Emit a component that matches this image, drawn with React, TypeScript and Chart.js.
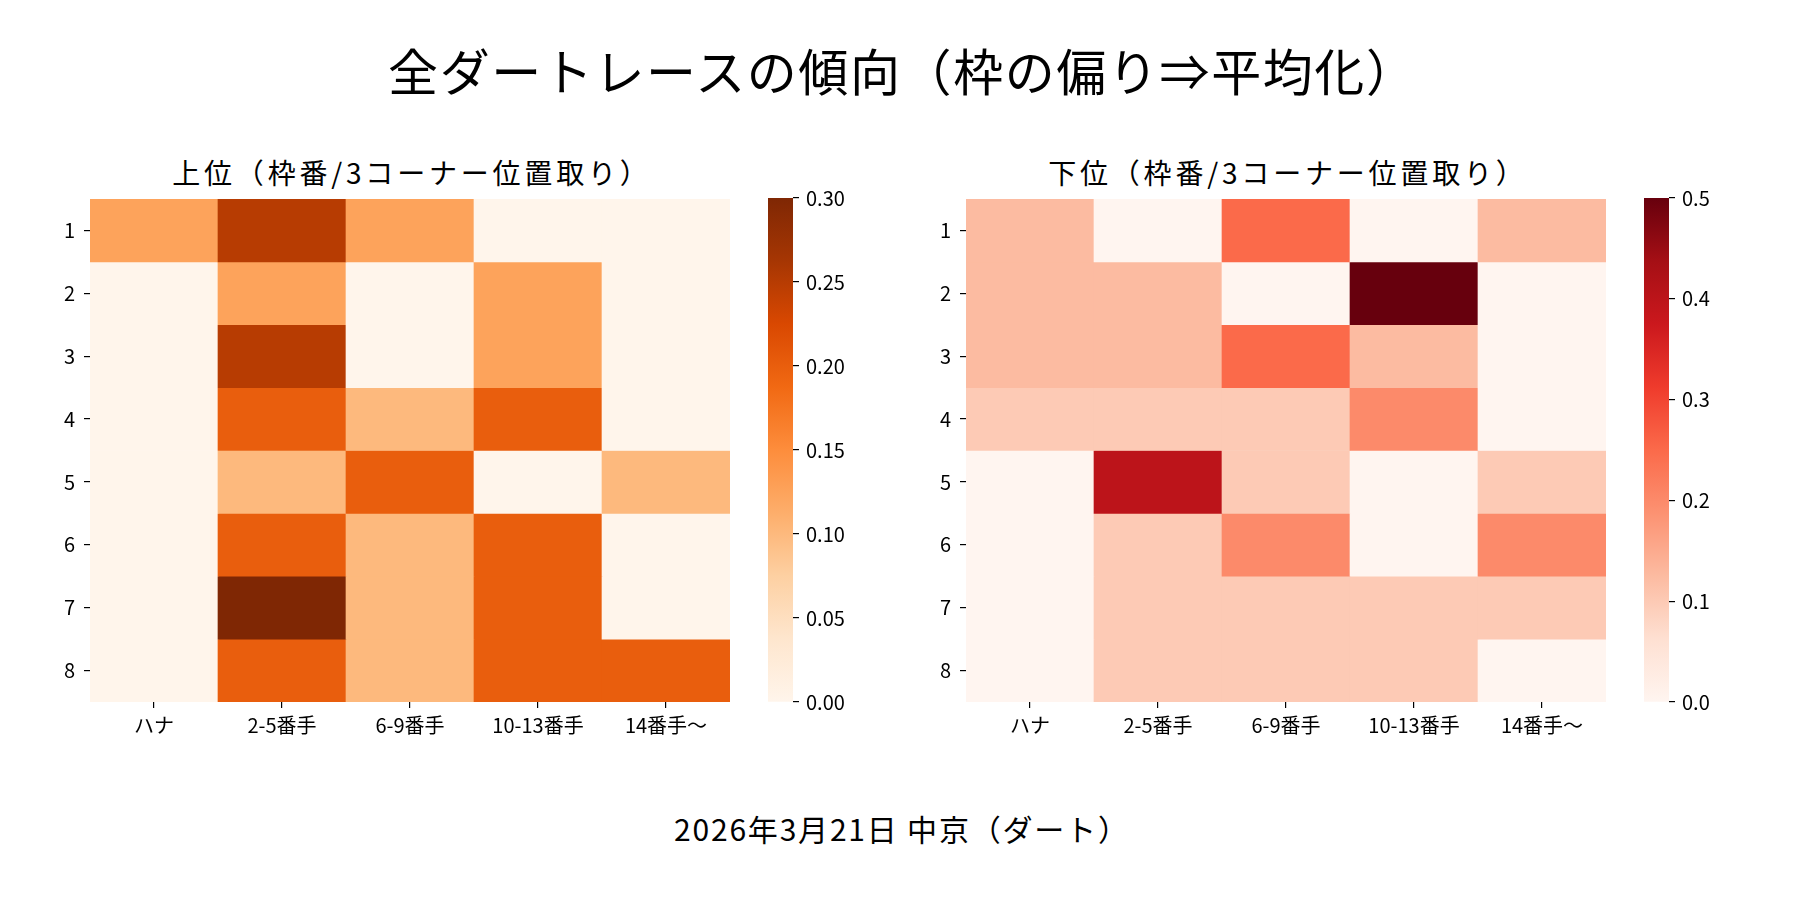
import { useEffect, useRef } from 'react';
import Chart from 'chart.js/auto';

const FONT = '"Noto Sans CJK JP", "Noto Sans", sans-serif';

const mainTitle = '全ダートレースの傾向（枠の偏り⇒平均化）';
const upperTitle = '上位（枠番/3コーナー位置取り）';
const lowerTitle = '下位（枠番/3コーナー位置取り）';
const footerText = '2026年3月21日 中京（ダート）';

const columnLabels = ['ハナ', '2-5番手', '6-9番手', '10-13番手', '14番手～'];
const rowLabels = ['1', '2', '3', '4', '5', '6', '7', '8'];

// 上位 share per 枠番 (rows) x 3コーナー position (columns)
const upperValues = [
  [0.125, 0.25, 0.125, 0, 0],
  [0, 0.125, 0, 0.125, 0],
  [0, 0.25, 0, 0.125, 0],
  [0, 0.2, 0.1, 0.2, 0],
  [0, 0.1, 0.2, 0, 0.1],
  [0, 0.2, 0.1, 0.2, 0],
  [0, 0.3, 0.1, 0.2, 0],
  [0, 0.2, 0.1, 0.2, 0.2],
];

// 下位 share
const lowerValues = [
  [0.125, 0, 0.25, 0, 0.125],
  [0.125, 0.125, 0, 0.5, 0],
  [0.125, 0.125, 0.25, 0.125, 0],
  [0.1, 0.1, 0.1, 0.2, 0],
  [0, 0.4, 0.1, 0, 0.1],
  [0, 0.1, 0.2, 0, 0.2],
  [0, 0.1, 0.1, 0.1, 0.1],
  [0, 0.1, 0.1, 0.1, 0],
];

const upperMax = 0.3;
const upperTicks = 0.05;
const lowerMax = 0.5;
const lowerTicks = 0.1;

// matplotlib Oranges / Reds
const ORANGES = ['#fff5eb', '#fee6ce', '#fdd0a2', '#fdae6b', '#fd8d3c', '#f16913', '#d94801', '#a63603', '#7f2704'];
const REDS = ['#fff5f0', '#fee0d2', '#fcbba1', '#fc9272', '#fb6a4a', '#ef3b2c', '#cb181d', '#a50f15', '#67000d'];

function hexToRgb(h: string) {
  return [parseInt(h.slice(1, 3), 16), parseInt(h.slice(3, 5), 16), parseInt(h.slice(5, 7), 16)];
}

function colorAt(stops: string[], t: number) {
  const tt = Math.max(0, Math.min(1, t)) * (stops.length - 1);
  const i = Math.min(Math.floor(tt), stops.length - 2);
  const f = tt - i;
  const a = hexToRgb(stops[i]);
  const b = hexToRgb(stops[i + 1]);
  const c = a.map((v, k) => Math.round(v + (b[k] - v) * f));
  return `rgb(${c[0]}, ${c[1]}, ${c[2]})`;
}

const tickFont = { family: FONT, size: 20 };

function Heatmap({ values, vmax, stops, left }: { values: number[][]; vmax: number; stops: string[]; left: number }) {
  const ref = useRef<HTMLCanvasElement>(null);
  const chartRef = useRef<Chart | null>(null);

  useEffect(() => {
    if (!ref.current) return;
    if (chartRef.current) chartRef.current.destroy();

    chartRef.current = new Chart(ref.current, {
      type: 'bar',
      data: {
        labels: columnLabels,
        datasets: values.map((row, r) => ({
          label: rowLabels[r],
          data: row.map(() => [r, r + 1]),
          backgroundColor: row.map(v => colorAt(stops, v / vmax)),
          borderWidth: 0,
          barPercentage: 1,
          categoryPercentage: 1,
          grouped: false,
        })),
      },
      options: {
        responsive: false,
        animation: false,
        devicePixelRatio: 1,
        layout: { padding: { top: 20, right: 10, bottom: 0, left: 0 } },
        plugins: { legend: { display: false }, tooltip: { enabled: false } },
        scales: {
          x: {
            type: 'category',
            afterFit: (s: any) => { s.height = 60; },
            grid: { display: true, drawOnChartArea: false, drawTicks: true, tickLength: 6, offset: false, color: '#000', lineWidth: 1.2 },
            border: { display: false },
            ticks: { font: tickFont, color: '#000', padding: 5, autoSkip: false, maxRotation: 0 },
          },
          y: {
            type: 'linear',
            min: 0,
            max: rowLabels.length,
            reverse: true,
            afterFit: (s: any) => { s.width = 60; },
            afterBuildTicks: (s: any) => { s.ticks = rowLabels.map((_, i) => ({ value: i + 0.5 })); },
            grid: { display: true, drawOnChartArea: false, drawTicks: true, tickLength: 6, color: '#000', lineWidth: 1.2 },
            border: { display: false },
            ticks: { font: tickFont, color: '#000', padding: 9, autoSkip: false, callback: (_v: any, i: number) => rowLabels[i] },
          },
        },
      },
    });

    return () => {
      if (chartRef.current) {
        chartRef.current.destroy();
        chartRef.current = null;
      }
    };
  }, [values, vmax, stops]);

  return (
    <canvas ref={ref} width={710} height={584} style={{ position: 'absolute', left, top: 178 }} />
  );
}

function ColorBar({ vmax, step, digits, stops, left }: { vmax: number; step: number; digits: number; stops: string[]; left: number }) {
  const ref = useRef<HTMLCanvasElement>(null);
  const chartRef = useRef<Chart | null>(null);

  useEffect(() => {
    if (!ref.current) return;
    if (chartRef.current) chartRef.current.destroy();

    chartRef.current = new Chart(ref.current, {
      type: 'bar',
      data: {
        labels: [''],
        datasets: [
          {
            data: [[0, vmax]],
            backgroundColor: (ctx: any) => {
              const area = ctx.chart.chartArea;
              if (!area) return stops[0];
              const g = ctx.chart.ctx.createLinearGradient(0, area.bottom, 0, area.top);
              stops.forEach((c, i) => g.addColorStop(i / (stops.length - 1), c));
              return g;
            },
            borderWidth: 0,
            barPercentage: 1,
            categoryPercentage: 1,
          },
        ],
      },
      options: {
        responsive: false,
        animation: false,
        devicePixelRatio: 1,
        layout: { padding: { top: 20, right: 10, bottom: 20, left: 0 } },
        plugins: { legend: { display: false }, tooltip: { enabled: false } },
        scales: {
          x: { display: false },
          y: {
            position: 'right',
            min: 0,
            max: vmax,
            afterFit: (s: any) => { s.width = 70; },
            grid: { display: true, drawOnChartArea: false, drawTicks: true, tickLength: 6, color: '#000', lineWidth: 1.2 },
            border: { display: false },
            ticks: { stepSize: step, font: tickFont, color: '#000', padding: 7, callback: (v: any) => Number(v).toFixed(digits) },
          },
        },
      },
    });

    return () => {
      if (chartRef.current) {
        chartRef.current.destroy();
        chartRef.current = null;
      }
    };
  }, [vmax, step, digits, stops]);

  return (
    <canvas ref={ref} width={105} height={544} style={{ position: 'absolute', left, top: 178 }} />
  );
}

function Text({ text, cx, cy, size, spacing = 0 }: { text: string; cx: number; cy: number; size: number; spacing?: number }) {
  return (
    <div
      style={{
        position: 'absolute',
        left: cx - 600 + spacing / 2,
        width: 1200,
        top: cy - size / 2 - size * 0.06,
        height: size,
        lineHeight: `${size}px`,
        fontSize: size,
        fontFamily: FONT,
        letterSpacing: spacing,
        color: '#000',
        textAlign: 'center',
        whiteSpace: 'nowrap',
      }}
    >
      {text}
    </div>
  );
}

export default function App() {
  return (
    <div style={{ position: 'fixed', left: 0, top: 0, width: 1800, height: 900, background: '#fff', overflow: 'hidden' }}>
      <Text text={mainTitle} cx={902} cy={72} size={50} spacing={1.6} />
      <Text text={upperTitle} cx={410} cy={174} size={28} spacing={3.8} />
      <Text text={lowerTitle} cx={1286} cy={174} size={28} spacing={3.8} />
      <Heatmap values={upperValues} vmax={upperMax} stops={ORANGES} left={30} />
      <ColorBar vmax={upperMax} step={upperTicks} digits={2} stops={ORANGES} left={768} />
      <Heatmap values={lowerValues} vmax={lowerMax} stops={REDS} left={906} />
      <ColorBar vmax={lowerMax} step={lowerTicks} digits={1} stops={REDS} left={1644} />
      <Text text={footerText} cx={901} cy={830} size={30} spacing={1.8} />
    </div>
  );
}
